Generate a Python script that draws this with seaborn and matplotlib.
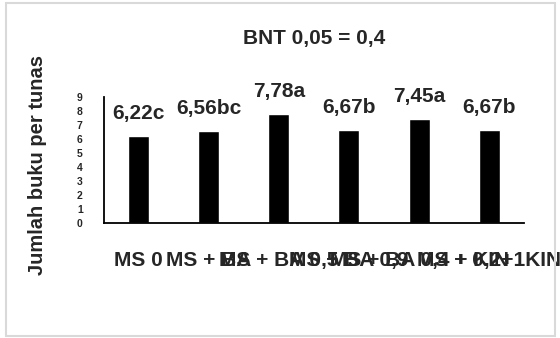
import pandas as pd
import seaborn as sns
import matplotlib.pyplot as plt
from matplotlib.patches import Rectangle

# data
treatments = ["MS 0", "MS + BA", "MS + BA 0,5", "MS + BA 0,9", "MS + BA 0,4 + KIN", "MS + 0,2+1KIN"]
values = [6.22, 6.56, 7.78, 6.67, 7.45, 6.67]
letters = ["6,22c", "6,56bc", "7,78a", "6,67b", "7,45a", "6,67b"]
yticks = list(range(0, 10))

df = pd.DataFrame({"perlakuan": treatments, "jumlah": values})

sns.set_theme(style="white")
plt.rcParams["font.family"] = ["Liberation Sans", "DejaVu Sans"]
plt.rcParams["font.weight"] = "bold"

fig = plt.figure(figsize=(5.6, 3.38), dpi=100)
ax = fig.add_axes([0.185, 0.340, 0.751, 0.373])

sns.barplot(data=df, x="perlakuan", y="jumlah", color="black", width=0.3,
            saturation=1, ax=ax)

ax.set_ylim(0, 9)
ax.set_xlim(-0.5, len(treatments) - 0.5)
ax.set_yticks(yticks)
ax.set_yticklabels([str(t) for t in yticks], fontsize=7.5, fontweight="bold")
ax.tick_params(axis="y", length=0, pad=15)
ax.tick_params(axis="x", length=0, pad=20)
for lbl in ax.get_xticklabels():
    lbl.set_fontsize(15)
    lbl.set_fontweight("bold")
    lbl.set_clip_on(False)

for i, (v, txt) in enumerate(zip(values, letters)):
    ax.annotate(txt, (i, v), xytext=(0, 16), textcoords="offset points",
                ha="center", va="center", fontsize=15, fontweight="bold")

ax.set_xlabel("")
ax.set_ylabel("Jumlah buku per tunas", fontsize=14.5, fontweight="bold")
ax.yaxis.set_label_coords(-0.135, 0.46)
ax.set_title("BNT 0,05 = 0,4", fontsize=15, fontweight="bold", y=1.0, pad=38)

for side in ["top", "right"]:
    ax.spines[side].set_visible(False)
for side in ["left", "bottom"]:
    ax.spines[side].set_color("black")
    ax.spines[side].set_linewidth(1.3)

# light grey frame around the chart area
fig.patches.append(Rectangle((0.011, 0.006), 0.98, 0.985, transform=fig.transFigure,
                             fill=False, edgecolor="#d9d9d9", linewidth=1.5))

fig.savefig("out.png", dpi=100)
